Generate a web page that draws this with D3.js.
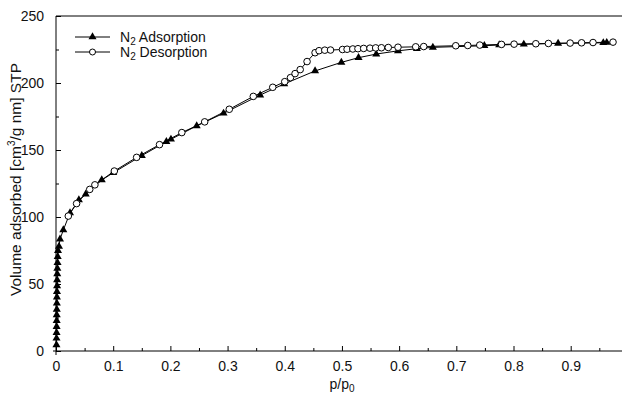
<!DOCTYPE html>
<html>
<head>
<meta charset="utf-8">
<script src="https://cdn.jsdelivr.net/npm/d3@7"></script>
<style>
  html, body { margin: 0; padding: 0; background: #fff; }
  svg { display: block; font-family: "Liberation Sans", Arial, sans-serif; }
</style>
</head>
<body>
<svg id="chart" width="622" height="397"></svg>
<script>
// N2 sorption isotherm: relative pressure p/p0 vs. adsorbed volume
const adsorptionP = [0.0008, 0.0009, 0.0010, 0.0011, 0.0012, 0.0013, 0.0014, 0.0015, 0.0016, 0.0017,
  0.0019, 0.0020, 0.0022, 0.0024, 0.0027, 0.0030, 0.0035, 0.0052, 0.0070, 0.0128,
  0.0245, 0.040, 0.052, 0.080, 0.100, 0.150, 0.193, 0.201, 0.246, 0.293, 0.357, 0.399,
  0.453, 0.499, 0.529, 0.560, 0.598, 0.631, 0.659, 0.749, 0.775, 0.818, 0.878, 0.957, 0.963];
const adsorptionV = [4.5, 9.5, 13.7, 18.1, 22.6, 26.9, 31.1, 35.6, 40.1, 44.3,
  48.5, 53.0, 57.5, 61.7, 65.9, 70.4, 74.9, 78.0, 83.4, 90.3,
  103.0, 112.7, 117.0, 127.6, 133.0, 145.8, 156.2, 158.0, 168.0, 177.4, 191.0, 199.3,
  209.0, 215.4, 218.9, 221.6, 224.0, 225.6, 226.6, 227.8, 228.4, 228.9, 229.6, 230.0, 230.2];

const desorptionP = [0.0215, 0.036, 0.059, 0.068, 0.102, 0.141, 0.181, 0.220, 0.260, 0.303, 0.345, 0.379,
  0.400, 0.410, 0.418, 0.427, 0.439, 0.453, 0.460, 0.470, 0.480, 0.501, 0.509, 0.519, 0.528, 0.538,
  0.549, 0.559, 0.569, 0.581, 0.598, 0.629, 0.643, 0.699, 0.720, 0.741, 0.779, 0.801, 0.839, 0.861,
  0.899, 0.919, 0.939, 0.974];
const desorptionV = [100.7, 110.0, 120.6, 124.0, 134.3, 144.5, 154.0, 163.0, 171.0, 180.4, 190.0, 196.8,
  201.0, 204.0, 207.0, 210.0, 216.0, 222.6, 224.1, 224.5, 224.6, 225.0, 225.2, 225.4, 225.6, 225.8,
  226.0, 226.2, 226.3, 226.5, 226.7, 227.0, 227.2, 227.8, 228.0, 228.3, 228.8, 229.0, 229.3, 229.5,
  229.8, 230.0, 230.2, 230.5];

const xTicks = [0, 0.1, 0.2, 0.3, 0.4, 0.5, 0.6, 0.7, 0.8, 0.9];
const xMinorTicks = [0.05, 0.15, 0.25, 0.35, 0.45, 0.55, 0.65, 0.75, 0.85, 0.95];
const yTicks = [0, 50, 100, 150, 200, 250];
const yMinorTicks = [25, 75, 125, 175, 225];
const seriesNames = ["Adsorption", "Desorption"];

const svg = d3.select("#chart");
const mLeft = 56, mRight = 620, mTop = 16, mBottom = 351;

const x = d3.scaleLinear().domain([0, 0.9862]).range([mLeft, mRight]);
const y = d3.scaleLinear().domain([0, 250]).range([mBottom, mTop]);

const fontSize = 14;

// frame: left, bottom and top lines
svg.append("line").attr("x1", mLeft).attr("x2", mLeft).attr("y1", mTop).attr("y2", mBottom + 4)
  .attr("stroke", "#000").attr("stroke-width", 1);
svg.append("line").attr("x1", mLeft - 3).attr("x2", mRight + 2).attr("y1", mBottom).attr("y2", mBottom)
  .attr("stroke", "#000").attr("stroke-width", 1);
svg.append("line").attr("x1", mLeft).attr("x2", mRight + 2).attr("y1", mTop).attr("y2", mTop)
  .attr("stroke", "#000").attr("stroke-width", 1);

// x axis: inward ticks
const xAxis = d3.axisBottom(x).tickValues(xTicks).tickSizeInner(-5).tickSizeOuter(0)
  .tickPadding(10).tickFormat(d => d === 0 ? "0" : d3.format(".1f")(d));
const gx = svg.append("g").attr("transform", `translate(0,${mBottom})`).call(xAxis);
gx.select(".domain").remove();
gx.selectAll("text").attr("font-size", fontSize).attr("font-family", "Liberation Sans, Arial, sans-serif").attr("fill", "#111");
const xMinor = d3.axisBottom(x).tickValues(xMinorTicks).tickSize(-3).tickFormat("");
const gxm = svg.append("g").attr("transform", `translate(0,${mBottom})`).call(xMinor);
gxm.select(".domain").remove();

// y axis: inward ticks
const yAxis = d3.axisLeft(y).tickValues(yTicks).tickSizeInner(-5).tickSizeOuter(0).tickPadding(12);
const gy = svg.append("g").attr("transform", `translate(${mLeft},0)`).call(yAxis);
gy.select(".domain").remove();
gy.selectAll("text").attr("font-size", fontSize).attr("font-family", "Liberation Sans, Arial, sans-serif").attr("fill", "#111");
const yMinor = d3.axisLeft(y).tickValues(yMinorTicks).tickSize(-3).tickFormat("");
const gym = svg.append("g").attr("transform", `translate(${mLeft},0)`).call(yMinor);
gym.select(".domain").remove();

// axis titles
const yTitle = svg.append("text")
  .attr("transform", `translate(21,${(mTop + mBottom) / 2 - 4}) rotate(-90)`)
  .attr("text-anchor", "middle").attr("font-size", 15.5).attr("fill", "#111");
yTitle.append("tspan").text("Volume adsorbed [cm");
yTitle.append("tspan").attr("font-size", 10).attr("dy", -6).text("3");
yTitle.append("tspan").attr("dy", 6).text("/g nm] STP");

const xTitle = svg.append("text").attr("x", 342).attr("y", 389)
  .attr("text-anchor", "middle").attr("font-size", 14).attr("fill", "#111");
xTitle.append("tspan").text("p/p");
xTitle.append("tspan").attr("font-size", 10).attr("dy", 3).text("0");

// series
const ads = adsorptionP.map((p, i) => ({ p, v: adsorptionV[i] }));
const des = desorptionP.map((p, i) => ({ p, v: desorptionV[i] }));
const line = d3.line().x(d => x(d.p)).y(d => y(d.v));

const plot = svg.append("g");
plot.append("path").datum(ads).attr("d", line).attr("fill", "none").attr("stroke", "#000").attr("stroke-width", 1);
plot.append("path").datum(des).attr("d", line).attr("fill", "none").attr("stroke", "#000").attr("stroke-width", 1);

const tri = d3.symbol().type(d3.symbolTriangle).size(28);
plot.selectAll(".ads").data(ads).join("path").attr("class", "ads")
  .attr("d", tri).attr("transform", d => `translate(${x(d.p)},${y(d.v)})`).attr("fill", "#000");
plot.selectAll(".des").data(des).join("circle").attr("class", "des")
  .attr("cx", d => x(d.p)).attr("cy", d => y(d.v)).attr("r", 3.3)
  .attr("fill", "#fff").attr("stroke", "#000").attr("stroke-width", 1);

// legend
const legend = svg.append("g");
const rows = [37, 52];
seriesNames.forEach((name, i) => {
  const ly = rows[i];
  legend.append("line").attr("x1", 75).attr("x2", 110).attr("y1", ly).attr("y2", ly).attr("stroke", "#000");
  if (i === 0) {
    legend.append("path").attr("d", tri).attr("transform", `translate(92.5,${ly})`).attr("fill", "#000");
  } else {
    legend.append("circle").attr("cx", 92.5).attr("cy", ly).attr("r", 3).attr("fill", "#fff").attr("stroke", "#000");
  }
  const t = legend.append("text").attr("x", 120).attr("y", ly + 5).attr("font-size", fontSize).attr("fill", "#111");
  t.append("tspan").text("N");
  t.append("tspan").attr("font-size", 10).attr("dy", 3).text("2");
  t.append("tspan").attr("dy", -3).text(" " + name);
});
</script>
</body>
</html>
